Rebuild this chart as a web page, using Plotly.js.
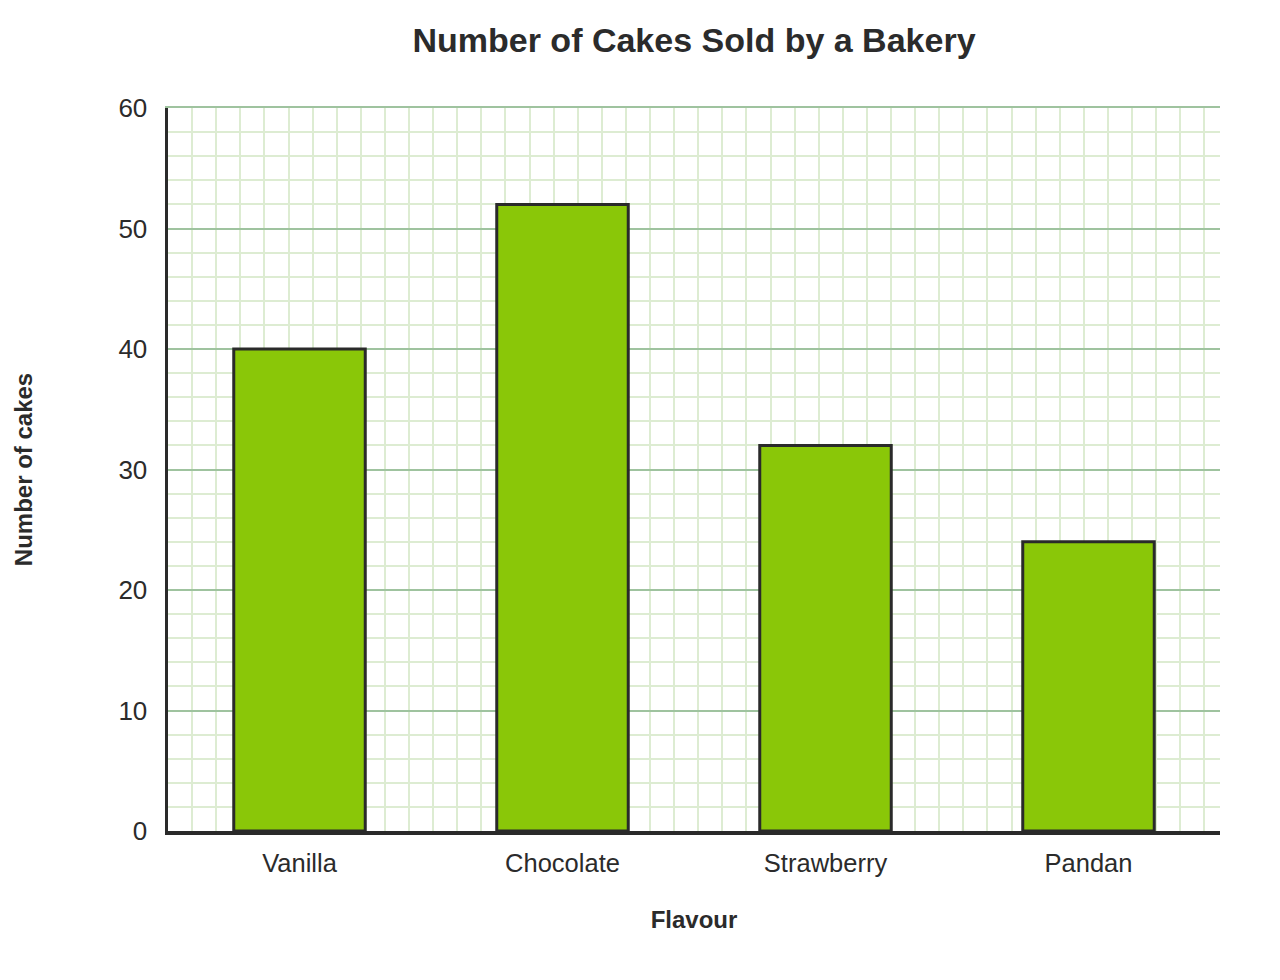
<!DOCTYPE html>
<html>
<head>
<meta charset="utf-8">
<script src="https://cdn.plot.ly/plotly-3.0.1.min.js"></script>
<style>
  html, body { margin: 0; padding: 0; background: #ffffff; }
  #chart { width: 1280px; height: 980px; }
</style>
</head>
<body>
<div id="chart"></div>
<script>
const flavours = ["Vanilla", "Chocolate", "Strawberry", "Pandan"];
const cakesSold = [40, 52, 32, 24];
const chartTitle = "Number of Cakes Sold by a Bakery";
const xTitle = "Flavour";
const yTitle = "Number of cakes";

const textColor = "#2b2b2b";
const fontFamily = "Arial, 'Liberation Sans', Helvetica, sans-serif";
const majorGrid = "#9fc39f";
const minorGrid = "#ddecd2";

const W = 1280, H = 980;
const margin = { l: 168, r: 60, t: 108, b: 149 };
const plotW = W - margin.l - margin.r;
const plotH = H - margin.t - margin.b;
const yMax = 60;
const xGridRange = plotW / (plotH / yMax);

const traces = [
  {
    type: "bar",
    x: flavours,
    y: cakesSold,
    width: 0.5,
    marker: { color: "#8ac708", line: { color: "#2a2a2a", width: 3 } },
    hoverinfo: "x+y"
  },
  {
    type: "scatter",
    x: [],
    y: [],
    xaxis: "x2",
    yaxis: "y",
    mode: "markers",
    showlegend: false,
    hoverinfo: "skip"
  }
];

const layout = {
  width: W,
  height: H,
  margin: margin,
  paper_bgcolor: "#ffffff",
  plot_bgcolor: "#ffffff",
  showlegend: false,
  font: { family: fontFamily, color: textColor },
  title: {
    text: "<b>" + chartTitle + "</b>",
    font: { size: 34, color: textColor, family: fontFamily },
    x: 0.5, xref: "paper", xanchor: "center",
    y: 1 - 40 / H, yref: "container", yanchor: "middle"
  },
  xaxis: {
    type: "category",
    range: [-0.5, 3.5],
    showgrid: false,
    zeroline: false,
    showline: true,
    linecolor: "#2a2a2a",
    linewidth: 3.5,
    ticks: "",
    ticklabelstandoff: 7,
    tickfont: { size: 25.5, color: textColor, family: fontFamily },
    title: {
      text: "<b>" + xTitle + "</b>",
      font: { size: 24, color: textColor, family: fontFamily },
      standoff: 36
    },
    automargin: false,
    fixedrange: true
  },
  xaxis2: {
    overlaying: "x",
    side: "top",
    anchor: "y",
    type: "linear",
    range: [0, xGridRange],
    dtick: 1000,
    tick0: 0,
    showgrid: false,
    zeroline: false,
    showline: true,
    linecolor: majorGrid,
    linewidth: 2,
    showticklabels: false,
    ticks: "",
    minor: { dtick: 2, tick0: 0, showgrid: true, gridcolor: minorGrid, gridwidth: 2, ticks: "" },
    fixedrange: true
  },
  yaxis: {
    range: [0, yMax],
    dtick: 10,
    tick0: 0,
    showgrid: true,
    gridcolor: majorGrid,
    gridwidth: 2,
    minor: { dtick: 2, tick0: 0, showgrid: true, gridcolor: minorGrid, gridwidth: 2, ticks: "" },
    zeroline: false,
    showline: true,
    linecolor: "#2a2a2a",
    linewidth: 3.5,
    ticks: "",
    ticklabelstandoff: 12,
    tickfont: { size: 26, color: textColor, family: fontFamily },
    title: {
      text: "<b>" + yTitle + "</b>",
      font: { size: 24, color: textColor, family: fontFamily },
      standoff: 80
    },
    automargin: false,
    fixedrange: true
  },
  bargap: 0.5
};

Plotly.newPlot("chart", traces, layout, { displayModeBar: false, staticPlot: true });
</script>
</body>
</html>
